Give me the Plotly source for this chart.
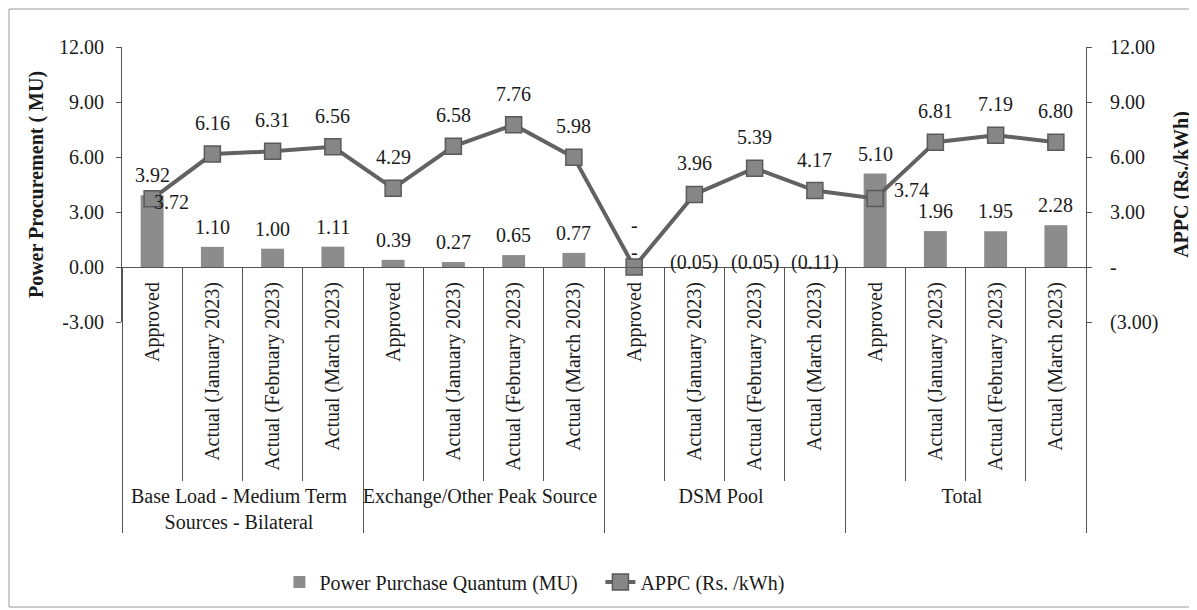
import plotly.graph_objects as go

# ---------------- data ----------------
groups = ["Base Load - Medium Term<br>Sources - Bilateral",
          "Exchange/Other Peak Source", "DSM Pool", "Total"]
periods = ["Approved", "Actual (January 2023)", "Actual (February 2023)",
           "Actual (March 2023)"]

quantum_base = [3.92, 1.10, 1.00, 1.11]
quantum_exchange = [0.39, 0.27, 0.65, 0.77]
quantum_dsm = [0.00, -0.05, -0.05, -0.11]
quantum_total = [5.10, 1.96, 1.95, 2.28]

appc_base = [3.72, 6.16, 6.31, 6.56]
appc_exchange = [4.29, 6.58, 7.76, 5.98]
appc_dsm = [0.00, 3.96, 5.39, 4.17]
appc_total = [3.74, 6.81, 7.19, 6.80]

y_tick_values = [-3, 0, 3, 6, 9, 12]
left_tick_text = ["-3.00", "0.00", "3.00", "6.00", "9.00", "12.00"]
right_tick_text = ["(3.00)", "-", "3.00", "6.00", "9.00", "12.00"]

# label placement style for the APPC labels (above marker, or to the right)
appc_label_side = ["right", "above", "above", "above",
                   "above", "above", "above", "above",
                   "above", "above", "above", "above",
                   "right", "above", "above", "above"]

# ---------------- build ----------------
quantum = quantum_base + quantum_exchange + quantum_dsm + quantum_total
appc = appc_base + appc_exchange + appc_dsm + appc_total
x_group = [g for g in groups for _ in periods]
x_period = [p for _ in groups for p in periods]
x_multi = [x_group, x_period]

FONT = "Liberation Serif"
TXT = "#1a1a1a"
AX = "#555555"
FS = 20


def acct(v):
    if abs(v) < 1e-9:
        return "-"
    if v < 0:
        return "({:.2f})".format(-v)
    return "{:.2f}".format(v)


fig = go.Figure()

fig.add_trace(go.Bar(
    x=x_multi, y=quantum, name="Power Purchase Quantum (MU)",
    marker=dict(color="#8c8c8c", line=dict(width=0)),
    width=0.38, xaxis="x", yaxis="y",
))

fig.add_trace(go.Scatter(
    x=x_multi, y=appc, name="APPC (Rs. /kWh)", mode="lines+markers",
    line=dict(color="#626262", width=4),
    marker=dict(symbol="square", size=16, color="#868686",
                line=dict(color="#5a5a5a", width=1.5)),
    xaxis="x", yaxis="y2",
))

# invisible helper trace carrying the category-divider ticks axis
fig.add_trace(go.Scatter(
    x=x_multi, y=quantum, mode="markers", marker=dict(opacity=0),
    showlegend=False, hoverinfo="skip", xaxis="x2", yaxis="y",
))

annotations = []
for i, v in enumerate(quantum):
    if abs(v) < 1e-9:
        shift = 15
    elif v < 0:
        shift = 5
    else:
        shift = 20
    annotations.append(dict(
        x=i, y=max(v, 0), xref="x", yref="y", text=acct(v),
        showarrow=False, yanchor="middle", xanchor="center",
        yshift=shift,
        font=dict(family=FONT, size=FS, color=TXT),
    ))
for i, v in enumerate(appc):
    if appc_label_side[i] == "right":
        annotations.append(dict(
            x=i, y=v, xref="x", yref="y2", text=acct(v),
            showarrow=False, yanchor="middle", xanchor="left",
            xshift=0 if i == 0 else 17, yshift=-3 if i == 0 else 8,
            font=dict(family=FONT, size=FS, color=TXT),
        ))
    else:
        annotations.append(dict(
            x=i, y=v, xref="x", yref="y2", text=acct(v),
            showarrow=False, yanchor="middle", xanchor="center",
            yshift=42 if abs(v) < 1e-9 else 31,
            font=dict(family=FONT, size=FS, color=TXT),
        ))

W, H = 1189, 602          # page adds an 8px body margin
ML, MR, MT, MB = 114, 111, 39, 288
PW = W - ML - MR
PH = H - MT - MB

shapes = [dict(
    type="rect", xref="paper", yref="paper",
    x0=(1 - ML) / PW, x1=(1184 - ML) / PW,
    y0=(MT + PH - 599) / PH, y1=(MT + PH - 1) / PH,
    line=dict(color="#9a9a9a", width=1), fillcolor="rgba(0,0,0,0)",
    layer="below",
)]

fig.update_layout(
    width=W, height=H,
    margin=dict(l=ML, r=MR, t=MT, b=MB, autoexpand=False),
    paper_bgcolor="white", plot_bgcolor="white",
    font=dict(family=FONT, size=FS, color=TXT),
    showlegend=True,
    legend=dict(
        orientation="h", x=0.1633, xanchor="left",
        y=(MT + PH - 574) / PH, yanchor="middle",
        entrywidth=276, entrywidthmode="pixels",
        font=dict(family=FONT, size=FS, color=TXT),
        bgcolor="rgba(0,0,0,0)",
    ),
    xaxis=dict(
        type="multicategory", anchor="free", position=0.2,
        range=[-0.5, 15.5], showline=True, linecolor=AX, linewidth=1,
        tickangle=-90, ticks="", showgrid=False,
        showdividers=True, dividercolor=AX, dividerwidth=1,
        tickfont=dict(family=FONT, size=FS, color=TXT),
        ticklabelstandoff=6, automargin=False,
    ),
    xaxis2=dict(
        type="multicategory", anchor="free", position=0.2,
        overlaying="x", range=[-0.5, 15.5], showline=False,
        showticklabels=False, ticks="outside", tickson="boundaries",
        ticklen=213, tickcolor=AX, tickwidth=1, showgrid=False,
        showdividers=False, automargin=False,
    ),
    yaxis=dict(
        range=[-3, 12], tickvals=y_tick_values, ticktext=left_tick_text,
        showline=True, linecolor=AX, linewidth=1, ticks="outside",
        ticklen=5, tickcolor=AX, showgrid=False, zeroline=False,
        tickfont=dict(family=FONT, size=FS, color=TXT),
        ticklabelstandoff=8,
        title=dict(text="<b>Power Procurement ( MU)</b>",
                   font=dict(family=FONT, size=FS, color=TXT), standoff=10),
        automargin=False,
    ),
    yaxis2=dict(
        range=[-3, 12], tickvals=y_tick_values, ticktext=right_tick_text,
        overlaying="y", side="right", anchor="x",
        showline=True, linecolor=AX, linewidth=1, ticks="outside",
        ticklen=5, tickcolor=AX, showgrid=False, zeroline=False,
        tickfont=dict(family=FONT, size=FS, color=TXT),
        ticklabelstandoff=14,
        title=dict(text="<b>APPC (Rs./kWh)</b>",
                   font=dict(family=FONT, size=FS, color=TXT), standoff=16),
        automargin=False,
    ),
    annotations=annotations,
    shapes=shapes,
)

fig.write_html("out.html")
